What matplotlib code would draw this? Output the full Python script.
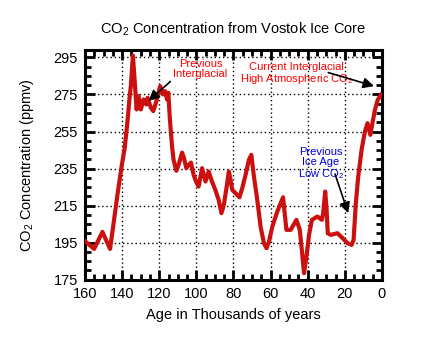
import matplotlib
matplotlib.use("Agg")
import matplotlib.pyplot as plt
from matplotlib.ticker import MultipleLocator

plt.rcParams['font.family'] = ['Liberation Sans', 'DejaVu Sans']
plt.rcParams['mathtext.fontset'] = 'custom'
plt.rcParams['mathtext.rm'] = 'Liberation Sans'
plt.rcParams['mathtext.it'] = 'Liberation Sans'

age = [160, 155.1, 150.6, 146.5, 144.7, 142.5, 140.4, 138.6, 137.1, 136,
       135.3, 134.2, 133.1, 132.2, 131.2, 129.9, 128.5, 127, 126.3, 124.5,
       123.2, 121.8, 119.5, 118, 116.9, 115.8, 115.1, 114.3, 113.1, 112.3,
       110.8, 109.6, 107.7, 106.9, 105.4, 104.2, 102.9, 101.5, 100.2, 98.8,
       96.9, 95.1, 93.4, 91.6, 89.8, 88, 86.5, 85.2, 83.8, 82.5,
       81.6, 80.7, 78.9, 76.8, 75.3, 73.5, 71.7, 70.4, 69, 67.2,
       65.4, 63.6, 62.2, 60.9, 59.1, 56.4, 53.3, 51.5, 49.2, 46.1,
       44.3, 43.2, 42, 40.7, 39.3, 37.8, 34.8, 32.4, 31.7, 30.6,
       29.9, 29.2, 27.6, 24, 21.2, 18.6, 16.4, 15.3, 14.1, 12.8,
       11, 9.2, 7.8, 6.3, 5, 3.8, 2.3, 0.5]
co2 = [195.8, 191.6, 200.8, 191.6, 204.7, 221, 235.4, 246.2, 260.6, 273.2,
       279.5, 296, 280.4, 266.9, 274.1, 266.9, 272.3, 269.6, 273.2, 267.8,
       266, 270.5, 279.5, 275, 276.8, 272.3, 275.9, 262, 246.9, 239.7,
       233.8, 237, 243.6, 241.5, 235.2, 237, 238.2, 231.6, 228, 225.3,
       235.2, 228, 233.4, 228, 223.5, 218.1, 210.9, 215.4, 224.4, 233.4,
       228.9, 223.5, 221.7, 219.5, 224.4, 231.6, 239.7, 242.4, 230.7, 218.1,
       203.6, 194.7, 192, 195.5, 203.6, 211.8, 219.5, 201.9, 201.9, 207.3,
       201.9, 191.1, 178.5, 187.4, 199.2, 207.3, 209.1, 207.3, 210.9, 222.6,
       213.6, 200, 199.2, 200.1, 197.4, 194.7, 193.8, 196.5, 216.3, 230.7,
       245.1, 255, 259.5, 253.2, 260.4, 266.7, 272.1, 274.8]

xticks = [160, 140, 120, 100, 80, 60, 40, 20, 0]
yticks = [175, 195, 215, 235, 255, 275, 295]

fig = plt.figure(figsize=(4.31, 3.57), dpi=100)
ax = fig.add_axes([85/431, 1-279.7/357, 297/431, (279.7-50)/357])

ax.plot(age, co2, color='#cc1010', lw=3.0, solid_joinstyle='round', zorder=3)

ax.set_xlim(160, 0)
ax.set_ylim(175, 299)
ax.set_xticks(xticks)
ax.set_yticks(yticks)
ax.xaxis.set_minor_locator(MultipleLocator(5))
ax.yaxis.set_minor_locator(MultipleLocator(5))
ax.tick_params(which='both', direction='in', top=True, right=True, width=2, color='black')
ax.tick_params(which='major', length=7, labelsize=10.5, pad=5)
ax.tick_params(which='minor', length=4)
for s in ax.spines.values():
    s.set_linewidth(2.2)
ax.grid(True, which='major', color='black', linestyle=(0, (1, 2)), lw=1)

ax.set_title('CO$_2$ Concentration from Vostok Ice Core', fontsize=10.5, pad=12)
ax.set_xlabel('Age in Thousands of years', fontsize=10.5, labelpad=5)
ax.set_ylabel('CO$_2$ Concentration (ppmv)', fontsize=10.5, labelpad=13)

ap = dict(arrowstyle='-|>', color='black', lw=1.2, mutation_scale=16, shrinkA=0, shrinkB=0)
ax.text(97.8, 288.6, 'Previous\nInterglacial', color='red', fontsize=8, ha='center', va='center', linespacing=1.0)
ax.annotate('', xy=(125.8, 271.5), xytext=(114, 282), arrowprops=ap)
ax.text(46, 285.9, 'Current Interglacial\nHigh Atmospheric CO$_2$', color='red', fontsize=8, ha='center', va='center', linespacing=1.0)
ax.annotate('', xy=(4.3, 279.5), xytext=(28.9, 286.8), arrowprops=ap)
ax.text(33, 237.5, 'Previous\nIce Age\nLow CO$_2$', color='#0000dd', fontsize=8, ha='center', va='center', linespacing=1.0)
ax.annotate('', xy=(18.2, 210.9), xytext=(25.3, 232), arrowprops=ap)

fig.savefig('out.png', dpi=100, facecolor='white')
